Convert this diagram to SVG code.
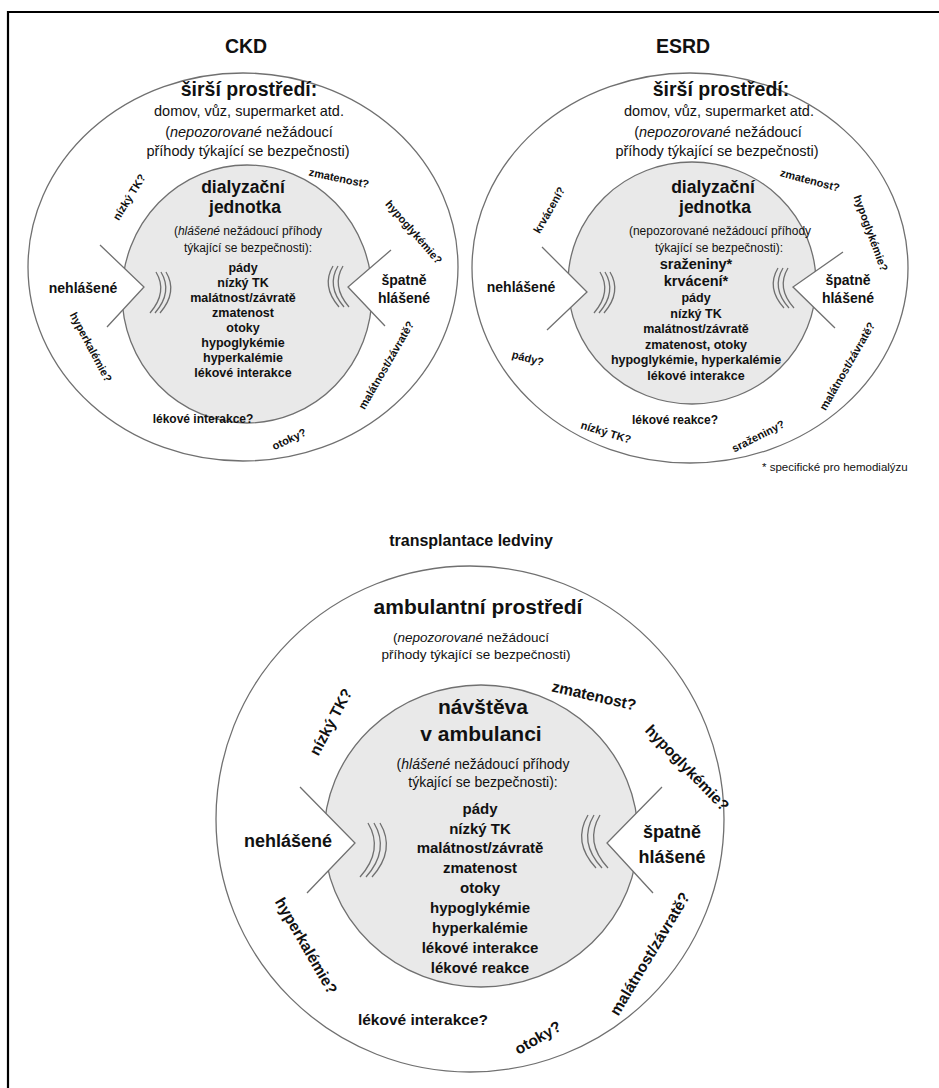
<svg xmlns="http://www.w3.org/2000/svg" width="939" height="1088" viewBox="0 0 939 1088">
<style>
.o{fill:#fff;stroke:#707070;stroke-width:1.3}
.i{fill:#e9e9e9;stroke:#707070;stroke-width:1.3}
.w{fill:#fff;stroke:none}
.l{fill:none;stroke:#707070;stroke-width:1.3}
text{font-family:"Liberation Sans",Arial,sans-serif;fill:#111;text-anchor:middle}
.b{font-weight:bold}
.it{font-style:italic}
</style>
<rect width="939" height="1088" fill="#fff"/>
<path d="M8,1088 V12 H939" fill="none" stroke="#000" stroke-width="2.2"/>

<g id="ckd">
<ellipse class="o" cx="243" cy="267" rx="215" ry="194"/>
<ellipse class="i" cx="247" cy="294" rx="125" ry="129"/>
<polygon class="w" points="100,245 144,287 107,327"/>
<polygon class="w" points="391,250 348,287 385,326"/>
<text class="b" x="246" y="53" font-size="19.5">CKD</text>
<text class="b" x="249" y="96" font-size="19.5">širší prostředí:</text>
<text x="249" y="116" font-size="14.5">domov, vůz, supermarket atd.</text>
<text x="249" y="137" font-size="14.5">(<tspan class="it">nepozorované</tspan> nežádoucí</text>
<text x="248" y="156" font-size="14.5">příhody týkající se bezpečnosti)</text>
<text class="b" x="243" y="193" font-size="17.5">dialyzační</text>
<text class="b" x="245" y="213" font-size="17.5">jednotka</text>
<text x="248" y="235" font-size="12">(<tspan class="it">hlášené</tspan> nežádoucí příhody</text>
<text x="248" y="252" font-size="12">týkající se bezpečnosti):</text>
<g class="b" font-size="12.5">
<text x="243" y="272">pády</text>
<text x="243" y="287">nízký TK</text>
<text x="243" y="302">malátnost/závratě</text>
<text x="243" y="317">zmatenost</text>
<text x="243" y="332">otoky</text>
<text x="243" y="347">hypoglykémie</text>
<text x="243" y="362">hyperkalémie</text>
<text x="243" y="377">lékové interakce</text>
</g>
<text class="b" x="83" y="293" font-size="14">nehlášené</text>
<text class="b" x="404" y="285" font-size="14">špatně</text>
<text class="b" x="404" y="303" font-size="14">hlášené</text>
<g class="b" font-size="11">
<text transform="translate(129,197) rotate(-58)" y="4">nízký TK?</text>
<text transform="translate(339,178) rotate(12)" y="4">zmatenost?</text>
<text transform="translate(414,232) rotate(49)" y="4">hypoglykémie?</text>
<text transform="translate(386,365) rotate(-60)" y="4">malátnost/závratě?</text>
<text transform="translate(289,439) rotate(-25)" y="4">otoky?</text>
<text x="203" y="423" font-size="12">lékové interakce?</text>
<text transform="translate(91,347) rotate(62)" y="4">hyperkalémie?</text>
</g>
</g>

<g id="esrd">
<ellipse class="o" cx="690" cy="268" rx="218" ry="195"/>
<ellipse class="i" cx="692" cy="283" rx="124" ry="121"/>
<polygon class="w" points="542,247 587,292 547,330"/>
<polygon class="w" points="843,252 793,287 835,328"/>
<text class="b" x="683" y="53" font-size="19.5">ESRD</text>
<text class="b" x="721" y="96" font-size="19.5">širší prostředí:</text>
<text x="719" y="116" font-size="14.5">domov, vůz, supermarket atd.</text>
<text x="718" y="137" font-size="14.5">(<tspan class="it">nepozorované</tspan> nežádoucí</text>
<text x="717" y="156" font-size="14.5">příhody týkající se bezpečnosti)</text>
<text class="b" x="713" y="193" font-size="17.5">dialyzační</text>
<text class="b" x="715" y="213" font-size="17.5">jednotka</text>
<text x="720" y="235" font-size="12">(nepozorované nežádoucí příhody</text>
<text x="719" y="252" font-size="12">týkající se bezpečnosti):</text>
<g class="b">
<text x="696" y="269" font-size="14.5">sraženiny*</text>
<text x="696" y="286" font-size="14.5">krvácení*</text>
<text x="696" y="302" font-size="12.5">pády</text>
<text x="696" y="318" font-size="12.5">nízký TK</text>
<text x="696" y="333" font-size="12.5">malátnost/závratě</text>
<text x="696" y="349" font-size="12.5">zmatenost, otoky</text>
<text x="696" y="364" font-size="12.5">hypoglykémie, hyperkalémie</text>
<text x="696" y="380" font-size="12.5">lékové interakce</text>
</g>
<text class="b" x="521" y="292" font-size="14">nehlášené</text>
<text class="b" x="848" y="285" font-size="14">špatně</text>
<text class="b" x="848" y="303" font-size="14">hlášené</text>
<g class="b" font-size="11">
<text transform="translate(549,210) rotate(-60)" y="4">krvácení?</text>
<text transform="translate(810,180) rotate(15)" y="4">zmatenost?</text>
<text transform="translate(871,233) rotate(70)" y="4">hypoglykémie?</text>
<text transform="translate(847,366) rotate(-60)" y="4">malátnost/závratě?</text>
<text transform="translate(758,436) rotate(-27)" y="4">sraženiny?</text>
<text x="675" y="424" font-size="12">lékové reakce?</text>
<text transform="translate(606,432) rotate(17)" y="4">nízký TK?</text>
<text transform="translate(528,358) rotate(15)" y="4">pády?</text>
</g>
<text x="762" y="471" font-size="11.5" style="text-anchor:start">* specifické pro hemodialýzu</text>
</g>

<g id="transplantace">
<text class="b" x="471" y="546" font-size="16">transplantace ledviny</text>
<ellipse class="o" cx="470" cy="819" rx="254" ry="253"/>
<ellipse class="i" cx="481" cy="836" rx="157" ry="151"/>
<polygon class="w" points="300,787 355,843 307,893"/>
<polygon class="w" points="662,787 607,843 653,893"/>
<text class="b" x="478" y="614" font-size="21">ambulantní prostředí</text>
<text x="471" y="642" font-size="13.5">(<tspan class="it">nepozorované</tspan> nežádoucí</text>
<text x="476" y="659" font-size="13.5">příhody týkající se bezpečnosti)</text>
<text class="b" x="483" y="714" font-size="21">návštěva</text>
<text class="b" x="481" y="741" font-size="21">v ambulanci</text>
<text x="483" y="769" font-size="14">(<tspan class="it">hlášené</tspan> nežádoucí příhody</text>
<text x="483" y="787" font-size="14">týkající se bezpečnosti):</text>
<g class="b" font-size="15">
<text x="480" y="814">pády</text>
<text x="480" y="834">nízký TK</text>
<text x="480" y="853">malátnost/závratě</text>
<text x="480" y="873">zmatenost</text>
<text x="480" y="893">otoky</text>
<text x="480" y="913">hypoglykémie</text>
<text x="480" y="933">hyperkalémie</text>
<text x="480" y="953">lékové interakce</text>
<text x="480" y="973">lékové reakce</text>
</g>
<text class="b" x="288" y="847" font-size="18">nehlášené</text>
<text class="b" x="672" y="838" font-size="18">špatně</text>
<text class="b" x="672" y="863" font-size="18">hlášené</text>
<g class="b" font-size="15.5">
<text transform="translate(331,722) rotate(-62)" y="5">nízký TK?</text>
<text transform="translate(594,696) rotate(13)" y="5">zmatenost?</text>
<text transform="translate(687,768) rotate(46)" y="5">hypoglykémie?</text>
<text transform="translate(650,954) rotate(-59)" y="5">malátnost/závratě?</text>
<text transform="translate(538,1038) rotate(-30)" y="5">otoky?</text>
<text x="423" y="1025">lékové interakce?</text>
<text transform="translate(306,946) rotate(60)" y="5">hyperkalémie?</text>
</g>
</g>

<g id="connectors">
<polyline class="l" points="100,245 144,287 107,327"/>
<polyline class="l" points="391,250 348,287 385,326"/>
<path class="l" d="M156,272 Q168,292 150,313 M161,272 Q173,292 155,313 M166,272 Q178,292 160,313"/>
<path class="l" d="M333,266 Q321,286 339,307 M338,266 Q326,286 344,307 M343,266 Q331,286 349,307"/>
<polyline class="l" points="542,247 587,292 547,330"/>
<polyline class="l" points="843,252 793,287 835,328"/>
<path class="l" d="M600,272 Q612,292 594,313 M605,272 Q617,292 599,313 M610,272 Q622,292 604,313"/>
<path class="l" d="M778,268 Q766,288 784,308 M783,268 Q771,288 789,308 M788,268 Q776,288 794,308"/>
<polyline class="l" points="300,787 355,843 307,893"/>
<polyline class="l" points="662,787 607,843 653,893"/>
<path class="l" d="M368,823 Q384,850 360,877 M374,823 Q390,850 366,877 M380,823 Q396,850 372,877"/>
<path class="l" d="M588,815 Q572,842 596,868 M594,815 Q578,842 602,868 M600,815 Q584,842 608,868"/>
</g>
</svg>
